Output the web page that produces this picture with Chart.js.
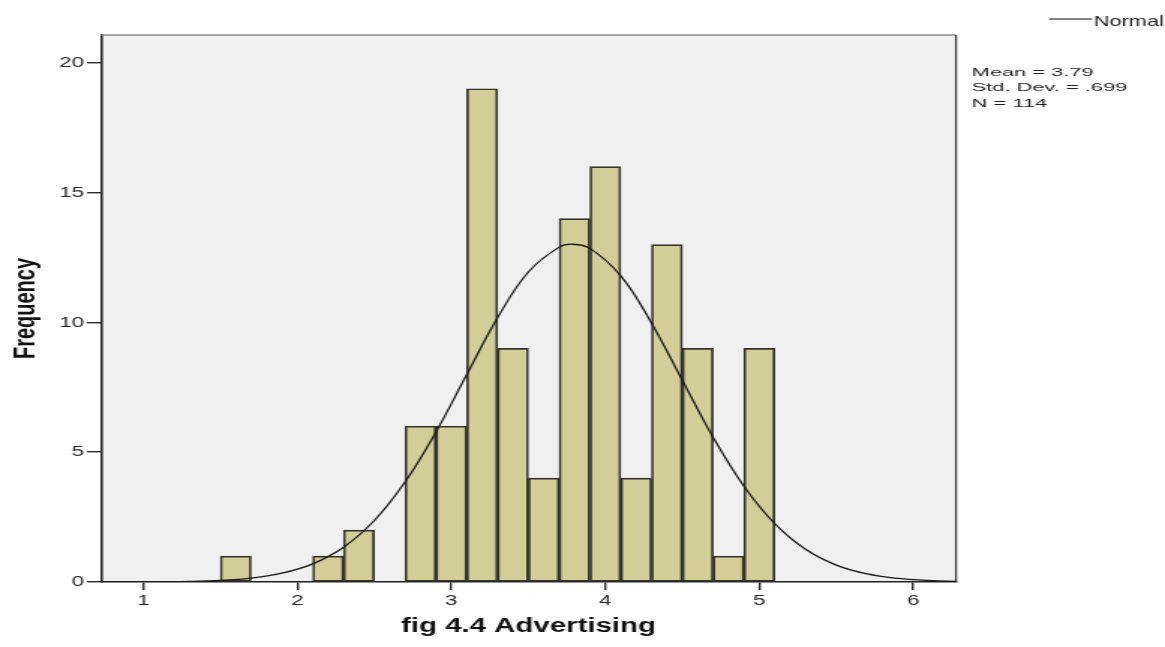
<!DOCTYPE html>
<html>
<head>
<meta charset="utf-8">
<script src="https://cdn.jsdelivr.net/npm/chart.js@4.4.1/dist/chart.umd.min.js"></script>
<style>
  html, body { margin: 0; padding: 0; background: #ffffff; overflow: hidden; }
  /* the chart is laid out narrow and widened horizontally, as the SPSS export was */
  #hist { display: block; transform-origin: 0 0; transform: scaleX(1.49936); }
</style>
</head>
<body>
<canvas id="hist" width="777" height="647" style="width:777px;height:647px"></canvas>
<script>
// Histogram of Advertising scores (bin width 0.2), with the fitted normal curve
const binCenters = [1.6, 2.2, 2.4, 2.8, 3.0, 3.2, 3.4, 3.6, 3.8, 4.0, 4.2, 4.4, 4.6, 4.8, 5.0];
const binCounts  = [1,   1,   2,   6,   6,   19,  9,   4,   14,  16,  4,   13,  9,   1,   9];

// Normal curve, sampled along the axis
const curveX = [0.7, 0.9, 1.1, 1.3, 1.5, 1.7, 1.9, 2.1, 2.3, 2.5, 2.7, 2.9, 3.1, 3.3, 3.5, 3.7, 3.79,
                3.9, 4.1, 4.3, 4.5, 4.7, 4.9, 5.1, 5.3, 5.5, 5.7, 5.9, 6.1, 6.3];
const curveY = [0.0, 0.0, 0.01, 0.02, 0.06, 0.15, 0.34, 0.70, 1.34, 2.37, 3.86, 5.78, 7.99, 10.18, 11.94, 12.90, 13.01,
                12.85, 11.79, 9.97, 7.77, 5.57, 3.69, 2.25, 1.26, 0.65, 0.31, 0.14, 0.06, 0.02];

const xTicks = [1, 2, 3, 4, 5, 6];
const yTicks = [0, 5, 10, 15, 20];
const xTitle = 'fig 4.4 Advertising';
const yTitle = 'Frequency';
const legendLabel = 'Normal';
const statLines = ['Mean = 3.79', 'Std. Dev. = .699', 'N = 114'];

const FONT = "'Liberation Sans', Arial, sans-serif";

const frame = {
  id: 'frame',
  beforeDraw(chart) {
    const { ctx, chartArea: a } = chart;
    ctx.save();
    ctx.fillStyle = '#f0f0f0';
    ctx.fillRect(a.left, a.top, a.right - a.left, a.bottom - a.top);
    ctx.restore();
  },
  beforeDatasetsDraw(chart) {
    const { ctx, chartArea: a } = chart;
    ctx.save();
    ctx.strokeStyle = '#8c8c8c';
    ctx.lineWidth = 1.6;
    ctx.beginPath();
    ctx.moveTo(a.left, a.top);
    ctx.lineTo(a.right, a.top);
    ctx.stroke();
    ctx.strokeStyle = '#3a3a3a';
    ctx.lineWidth = 1.3;
    ctx.beginPath();
    ctx.moveTo(a.right, a.top);
    ctx.lineTo(a.right, a.bottom);
    ctx.stroke();
    ctx.restore();
  },
  afterDraw(chart) {
    const { ctx } = chart;
    ctx.save();
    // legend entry
    ctx.strokeStyle = '#333333';
    ctx.lineWidth = 1.2;
    ctx.beginPath();
    ctx.moveTo(699.6, 19);
    ctx.lineTo(728.3, 19);
    ctx.stroke();
    ctx.fillStyle = '#1e1e1e';
    ctx.font = '14.5px ' + FONT;
    ctx.textBaseline = 'alphabetic';
    ctx.textAlign = 'left';
    ctx.fillText(legendLabel, 729.5, 26);
    // summary statistics
    ctx.font = '11.4px ' + FONT;
    ctx.translate(648, 0);
    ctx.scale(1.28, 1);
    const base = [75.7, 91.1, 106.6];
    statLines.forEach((t, i) => ctx.fillText(t, 0, base[i]));
    ctx.restore();
  }
};

new Chart(document.getElementById('hist'), {
  type: 'bar',
  data: {
    datasets: [
      {
        type: 'line',
        label: legendLabel,
        data: curveX.map((x, i) => ({ x, y: curveY[i] })),
        borderColor: '#1a1a1a',
        borderWidth: 1.3,
        pointRadius: 0,
        tension: 0.4,
        fill: false,
        order: 0
      },
      {
        type: 'bar',
        label: 'Frequency',
        data: binCenters.map((x, i) => ({ x, y: binCounts[i] })),
        backgroundColor: '#d3ce97',
        borderColor: '#34342f',
        borderWidth: 1.7,
        borderSkipped: false,
        barPercentage: 1,
        categoryPercentage: 1,
        order: 1
      }
    ]
  },
  options: {
    responsive: false,
    animation: false,
    events: [],
    layout: { padding: { left: 0, right: 139.4, top: 35, bottom: 0 } },
    plugins: { legend: { display: false }, tooltip: { enabled: false } },
    scales: {
      x: {
        type: 'linear',
        min: 0.725,
        max: 6.277,
        offset: false,
        afterBuildTicks: s => { s.ticks = xTicks.map(v => ({ value: v })); },
        afterFit: s => { s.height = 65; },
        grid: { display: true, drawOnChartArea: false, drawTicks: true, tickLength: 8, color: '#2a2a2a', lineWidth: 1.4, offset: false },
        border: { display: true, color: '#222222', width: 1.6 },
        ticks: { color: '#2a2a2a', font: { family: FONT, size: 15 }, padding: 2, maxRotation: 0, autoSkip: false },
        title: { display: true, text: xTitle, color: '#111111', font: { family: FONT, size: 19.6, weight: 'bold' }, padding: { top: 0, bottom: 9 } }
      },
      y: {
        type: 'linear',
        min: 0,
        max: 21.07,
        afterBuildTicks: s => { s.ticks = yTicks.map(v => ({ value: v })); },
        afterFit: s => { s.width = 67.36; },
        grid: { display: true, drawOnChartArea: false, drawTicks: true, tickLength: 9.3, color: '#2a2a2a', lineWidth: 1.4 },
        border: { display: true, color: '#222222', width: 1.6 },
        ticks: { color: '#2a2a2a', font: { family: FONT, size: 15 }, padding: 2 },
        title: { display: true, text: yTitle, color: '#111111', font: { family: FONT, size: 20, weight: 'bold' }, padding: { top: 5, bottom: 0 } }
      }
    }
  },
  plugins: [frame]
});
</script>
</body>
</html>
